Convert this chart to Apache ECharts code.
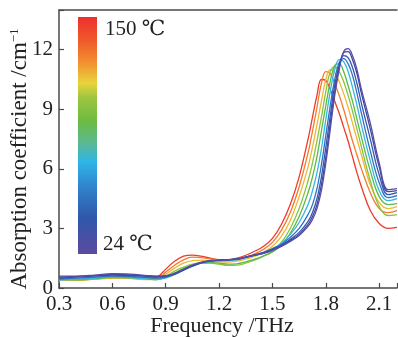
<!DOCTYPE html>
<html>
<head>
<meta charset="utf-8">
<script src="https://cdn.jsdelivr.net/npm/echarts@6/dist/echarts.min.js"></script>
<style>
  html, body { margin: 0; padding: 0; background: #fff; }
  #chart { width: 398px; height: 337px; }
</style>
</head>
<body>
<div id="chart"></div>
<script>
// frequency grid, THz
const freq = [0.3, 0.4, 0.5, 0.6, 0.7, 0.8, 0.85, 0.9, 0.95, 1.0, 1.05, 1.1, 1.15, 1.2, 1.25, 1.3, 1.35, 1.4, 1.45, 1.5,
  1.55, 1.6, 1.65, 1.7, 1.725, 1.75, 1.775, 1.8, 1.825, 1.85, 1.875, 1.9, 1.925, 1.95, 1.975, 2.0, 2.05, 2.1, 2.15, 2.2];

// absorption coefficient, cm^-1, one array per temperature
const t24 = [0.6, 0.6, 0.65, 0.72, 0.7, 0.62, 0.6, 0.62, 0.75, 0.95, 1.15, 1.3, 1.38, 1.4, 1.42, 1.45, 1.55, 1.65, 1.75, 1.9,
  2.1, 2.35, 2.65, 3.1, 3.45, 4.0, 4.9, 6.3, 8.0, 9.7, 11.0, 11.9, 12.05, 11.7, 11.0, 10.0, 8.3, 6.3, 4.95, 5.0];
const t36 = [0.55, 0.58, 0.62, 0.68, 0.66, 0.6, 0.58, 0.6, 0.72, 0.92, 1.12, 1.28, 1.37, 1.4, 1.43, 1.46, 1.55, 1.65, 1.76, 1.92,
  2.12, 2.4, 2.7, 3.2, 3.6, 4.2, 5.2, 6.6, 8.3, 9.9, 11.1, 11.85, 11.9, 11.5, 10.8, 9.8, 8.0, 6.1, 4.85, 4.9];
const t48 = [0.5, 0.55, 0.6, 0.65, 0.63, 0.58, 0.55, 0.58, 0.7, 0.9, 1.1, 1.27, 1.36, 1.4, 1.42, 1.45, 1.55, 1.66, 1.78, 1.95,
  2.15, 2.45, 2.8, 3.35, 3.8, 4.5, 5.6, 7.1, 8.7, 10.2, 11.2, 11.7, 11.6, 11.1, 10.3, 9.3, 7.5, 5.7, 4.7, 4.8];
const t60 = [0.45, 0.5, 0.55, 0.6, 0.58, 0.52, 0.5, 0.55, 0.7, 0.92, 1.12, 1.28, 1.36, 1.4, 1.42, 1.45, 1.56, 1.68, 1.8, 1.98,
  2.2, 2.55, 3.0, 3.7, 4.2, 5.0, 6.2, 7.7, 9.2, 10.5, 11.35, 11.55, 11.3, 10.7, 9.8, 8.8, 6.9, 5.3, 4.55, 4.65];
const t72 = [0.4, 0.45, 0.5, 0.55, 0.52, 0.45, 0.42, 0.5, 0.68, 0.9, 1.1, 1.25, 1.33, 1.36, 1.38, 1.42, 1.52, 1.64, 1.78, 1.98,
  2.25, 2.7, 3.3, 4.2, 4.9, 5.8, 7.0, 8.5, 9.9, 11.0, 11.5, 11.4, 10.9, 10.1, 9.2, 8.2, 6.4, 4.9, 4.4, 4.5];
const t84 = [0.45, 0.42, 0.48, 0.55, 0.55, 0.48, 0.45, 0.55, 0.75, 0.98, 1.15, 1.25, 1.28, 1.25, 1.2, 1.22, 1.32, 1.45, 1.62, 1.82,
  2.15, 2.75, 3.6, 4.8, 5.6, 6.6, 7.9, 9.2, 10.4, 11.2, 11.3, 10.9, 10.2, 9.4, 8.5, 7.6, 5.9, 4.6, 4.2, 4.25];
const t96 = [0.42, 0.4, 0.45, 0.52, 0.5, 0.45, 0.42, 0.6, 0.85, 1.05, 1.2, 1.26, 1.25, 1.2, 1.14, 1.15, 1.25, 1.4, 1.6, 1.85,
  2.3, 3.0, 4.0, 5.4, 6.3, 7.4, 8.6, 9.9, 10.9, 11.15, 10.9, 10.4, 9.7, 8.9, 8.0, 7.1, 5.4, 4.1, 3.65, 3.7];
const t108 = [0.4, 0.4, 0.45, 0.5, 0.48, 0.42, 0.42, 0.7, 1.0, 1.25, 1.38, 1.4, 1.36, 1.32, 1.3, 1.35, 1.45, 1.6, 1.8, 2.1,
  2.6, 3.4, 4.6, 6.1, 7.1, 8.2, 9.4, 10.5, 11.0, 10.85, 10.4, 9.8, 9.1, 8.3, 7.5, 6.7, 5.2, 4.3, 4.0, 4.1];
const t132 = [0.42, 0.4, 0.45, 0.5, 0.48, 0.45, 0.45, 0.8, 1.15, 1.42, 1.55, 1.53, 1.46, 1.4, 1.38, 1.42, 1.55, 1.72, 1.95, 2.3,
  2.9, 3.8, 5.1, 6.8, 7.9, 9.1, 10.3, 10.9, 10.8, 10.3, 9.7, 9.0, 8.2, 7.4, 6.7, 6.0, 4.8, 4.0, 3.8, 3.9];
const t150 = [0.5, 0.45, 0.5, 0.55, 0.52, 0.5, 0.55, 0.95, 1.35, 1.6, 1.66, 1.6, 1.5, 1.43, 1.42, 1.5, 1.65, 1.85, 2.1, 2.5,
  3.2, 4.2, 5.6, 7.5, 8.6, 9.7, 10.5, 10.45, 10.0, 9.4, 8.8, 8.1, 7.4, 6.6, 5.8, 5.1, 3.9, 3.25, 3.0, 3.05];

const curves = [t24, t36, t48, t60, t72, t84, t96, t108, t132, t150];
const names = ['24 ℃', '36 ℃', '48 ℃', '60 ℃', '72 ℃', '84 ℃', '96 ℃', '108 ℃', '132 ℃', '150 ℃'];
const colors = ['#5a4ba3', '#3d47a5', '#3358ae', '#2e72c2', '#38b4e4', '#5cb947', '#86c540', '#f2b634', '#f07c2c', '#ee3a2a'];

const xTicks = [0.3, 2.2, 0.3];   // min, max, interval
const yTicks = [0, 14, 3];

const font = '"Liberation Serif", "DejaVu Serif", "Noto Sans CJK SC", serif';
const axisColor = '#4a4a4a';

const chart = echarts.init(document.getElementById('chart'));

chart.setOption({
  animation: false,
  grid: {left: 59, top: 10, right: 1, bottom: 49, outerBoundsMode: 'none', containLabel: false},
  xAxis: [{
    type: 'value',
    min: xTicks[0], max: xTicks[1], interval: xTicks[2],
    name: 'Frequency /THz',
    nameLocation: 'middle',
    nameGap: 27,
    nameMoveOverlap: false,
    nameTextStyle: {fontFamily: font, fontSize: 22, color: '#222', padding: [0, 12, 0, 0]},
    axisLine: {lineStyle: {color: axisColor, width: 1.5}},
    axisTick: {inside: true, length: 5, lineStyle: {color: axisColor, width: 1.2}},
    axisLabel: {
      fontFamily: font, fontSize: 21, color: '#222', margin: 6,
      formatter: v => (v > 2.19 ? '' : v.toFixed(1))
    },
    splitLine: {show: false}
  }, {
    type: 'value', position: 'top',
    min: xTicks[0], max: xTicks[1],
    axisLine: {show: true, lineStyle: {color: axisColor, width: 1.5}},
    axisTick: {show: false}, axisLabel: {show: false}, splitLine: {show: false}
  }],
  yAxis: {
    type: 'value',
    min: yTicks[0], max: yTicks[1], interval: yTicks[2],
    name: 'Absorption coefficient /cm{sup|−1}',
    nameLocation: 'middle',
    nameGap: 28,
    nameMoveOverlap: false,
    nameTextStyle: {
      fontFamily: font, fontSize: 23, color: '#222', padding: [0, 20, 0, 0],
      rich: {sup: {fontFamily: font, fontSize: 13, color: '#222', verticalAlign: 'top', padding: [0, 0, 9, 0]}}
    },
    axisLine: {show: true, lineStyle: {color: axisColor, width: 1.5}},
    axisTick: {inside: true, length: 5, lineStyle: {color: axisColor, width: 1.2}},
    axisLabel: {
      fontFamily: font, fontSize: 21, color: '#222', margin: 6,
      formatter: v => (v > 13 ? '' : String(v))
    },
    splitLine: {show: false}
  },
  series: curves.map((vals, k) => ({
    name: names[k],
    type: 'line',
    smooth: 0.4,
    showSymbol: false,
    clip: true,
    lineStyle: {width: 1.3, color: colors[k]},
    itemStyle: {color: colors[k]},
    z: 10 - k,
    data: freq.map((f, i) => [f, vals[i]])
  })),
  graphic: [{
    type: 'rect',
    shape: {x: 78, y: 17, width: 19, height: 237},
    style: {
      fill: new echarts.graphic.LinearGradient(0, 0, 0, 1, [
        {offset: 0, color: '#ee2f2f'},
        {offset: 0.1, color: '#ef5a2b'},
        {offset: 0.19, color: '#f38e2f'},
        {offset: 0.28, color: '#e8d43c'},
        {offset: 0.34, color: '#9dc63f'},
        {offset: 0.44, color: '#6cbb42'},
        {offset: 0.53, color: '#5cb890'},
        {offset: 0.61, color: '#2fb6e6'},
        {offset: 0.72, color: '#2f82cc'},
        {offset: 0.85, color: '#2f57a8'},
        {offset: 1, color: '#5c4b9f'}
      ])
    }
  }, {
    type: 'text', left: 105, top: 19,
    style: {text: '150 ℃', font: '21px ' + font, fill: '#222'}
  }, {
    type: 'text', left: 103, top: 234,
    style: {text: '24 ℃', font: '21px ' + font, fill: '#222'}
  }]
});
</script>
</body>
</html>
